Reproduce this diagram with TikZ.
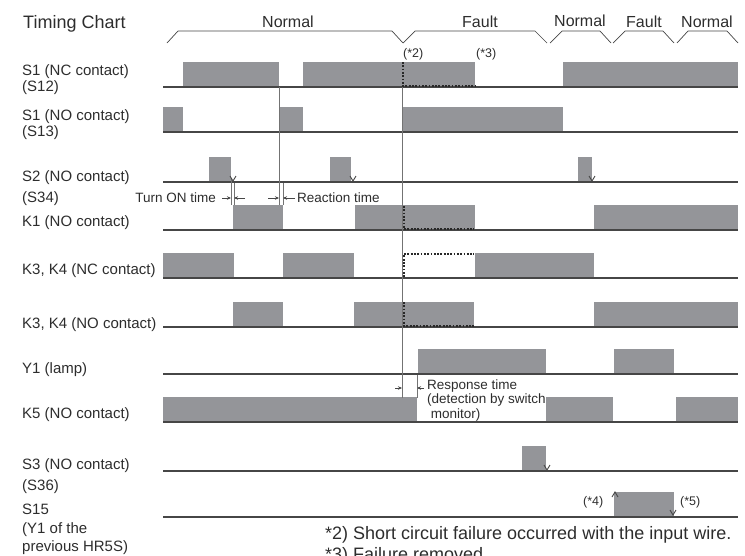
\documentclass[tikz,border=0pt]{standalone}
\usepackage{xcolor}
\usepackage{fontspec}
\setmainfont{Liberation Sans}
\usetikzlibrary{arrows.meta}
\definecolor{pulsegray}{RGB}{148,149,153}
\definecolor{linegray}{RGB}{70,70,70}
\definecolor{guidegray}{RGB}{115,115,115}
\definecolor{ink}{RGB}{45,45,45}

\newcommand{\sigrow}[2]{%
	\foreach \xa/\xb in {#2} \fill[pulsegray] (\xa,#1) rectangle (\xb,#1-25);
	\draw[sig] (163,#1) -- (738,#1);}

\begin{document}
\begin{tikzpicture}[x=1pt,y=-1pt,
	sig/.style={draw=linegray,line width=1.1pt},
	guide/.style={draw=guidegray,line width=0.8pt},
	dots/.style={draw=ink!90!black,line width=2pt,dash pattern=on 1.8pt off 1.5pt},
	hdr/.style={draw=linegray,line width=0.7pt},
	tick/.style={draw=linegray,line width=0.9pt},
	dim/.style={draw=linegray,line width=0.6pt,-{Stealth[length=4pt,width=3.5pt]}},
	lbl/.style={anchor=base west,inner sep=0pt,text=ink,font=\fontsize{15}{18}\selectfont},
	phase/.style={anchor=base,inner sep=0pt,text=ink,font=\fontsize{16}{19}\selectfont},
	note/.style={inner sep=0pt,text=ink,font=\fontsize{13.5}{14.5}\selectfont},
	fnmark/.style={anchor=base west,inner sep=0pt,text=ink,font=\fontsize{12.5}{14}\selectfont}]
	\useasboundingbox (0,0) rectangle (745,555);

	\sigrow{87}{183/279,303/475,563/738}
	\sigrow{132}{163/183,279/303,403/563}
	\sigrow{182}{209/231,330/351,578/592}
	\sigrow{230}{233/283,355/475,594/738}
	\sigrow{278}{163/234,283/354,475/594}
	\sigrow{327}{233/283,354/474,594/738}
	\sigrow{374}{418/546,614/674}
	\sigrow{422}{163/417,546/613,676/738}
	\sigrow{471}{522/546}
	\sigrow{517}{614/674}

	\draw[dots] (403,62) -- (403,86) -- (475,86);
	\draw[dots] (404,206) -- (404,229) -- (474,229);
	\draw[dots] (404,277) -- (404,254) -- (474,254);
	\draw[dots] (404,302) -- (404,326) -- (474,326);

	\draw[guide] (279,87) -- (279,205);
	\draw[guide] (402,87) -- (402,398);
	\draw[guide] (231,178) -- (231,205);
	\draw[guide] (234,183) -- (234,205);
	\draw[guide] (283,183) -- (283,205);
	\draw[guide] (417,375) -- (417,398);

	\draw[dim] (222,198) -- (231,198);
	\draw[dim] (245,198) -- (234,198);
	\draw[dim] (268,198) -- (279,198);
	\draw[dim] (295,198) -- (283,198);
	\draw[dim] (395,388) -- (402,388);
	\draw[dim] (424,388) -- (417,388);

	\foreach \xv/\yv in {233/181,353/181,592/181,547/470,673/515}
		\draw[tick] (\xv-3,\yv-5) -- (\xv,\yv) -- (\xv+3,\yv-5);
	\draw[tick] (612,497) -- (615,492) -- (618,497);

	\draw[hdr] (167,43) -- (178,31) -- (392,31) -- (403,43);
	\draw[hdr] (403,43) -- (415,31) -- (535,31) -- (547,43);
	\draw[hdr] (550,43) -- (562,31) -- (600,31) -- (611,43);
	\draw[hdr] (613,43) -- (625,31) -- (663,31) -- (674,43);
	\draw[hdr] (677,43) -- (688,31) -- (727,31) -- (738,43);
	\node[phase] (normal1) at (288,27.5) {Normal};
	\node[phase] (fault1) at (480,27.5) {Fault};
	\node[phase] (normal2) at (580,26.5) {Normal};
	\node[phase] (fault2) at (644,27.5) {Fault};
	\node[phase] (normal3) at (707,27.5) {Normal};

	\node[lbl,font=\fontsize{18}{21}\selectfont] (title) at (23,28) {Timing Chart};
	\node[lbl] (s1nc) at (22,75.5) {S1 (NC contact)};
	\node[lbl] (s1ncb) at (22,91) {(S12)};
	\node[lbl] (s1no) at (22,120.5) {S1 (NO contact)};
	\node[lbl] (s1nob) at (22,136) {(S13)};
	\node[lbl] (s2no) at (22,181) {S2 (NO contact)};
	\node[lbl] (s2nob) at (22,202) {(S34)};
	\node[lbl] (k1no) at (22,226) {K1 (NO contact)};
	\node[lbl] (k34nc) at (22,274) {K3, K4 (NC contact)};
	\node[lbl] (k34no) at (22,328.5) {K3, K4 (NO contact)};
	\node[lbl] (y1) at (22,373.5) {Y1 (lamp)};
	\node[lbl] (k5no) at (22,418.5) {K5 (NO contact)};
	\node[lbl] (s3no) at (22,469) {S3 (NO contact)};
	\node[lbl] (s3nob) at (22,490) {(S36)};
	\node[lbl] (s15) at (22,514) {S15};
	\node[lbl] (s15b) at (22,533.5) {(Y1 of the};
	\node[lbl] (s15c) at (22,551.5) {previous HR5S)};

	\node[note,anchor=base east] (turnon) at (216,202) {Turn ON time};
	\node[note,anchor=base west] (reaction) at (297,202) {Reaction time};
	\node[note,anchor=north west,align=left] (response) at (427,379.5) {Response time\\(detection by switch\\\ monitor)};

	\node[fnmark] (fn2mark) at (403,57.5) {(*2)};
	\node[fnmark] (fn3mark) at (476,57.5) {(*3)};
	\node[fnmark] (fn4mark) at (583,505.5) {(*4)};
	\node[fnmark] (fn5mark) at (680,505.5) {(*5)};

	\node[lbl,font=\fontsize{18}{21}\selectfont] (fn2) at (325,539) {*2) Short circuit failure occurred with the input wire.};
	\node[lbl,font=\fontsize{18}{21}\selectfont] (fn3) at (325,560) {*3) Failure removed.};
\end{tikzpicture}
\end{document}
